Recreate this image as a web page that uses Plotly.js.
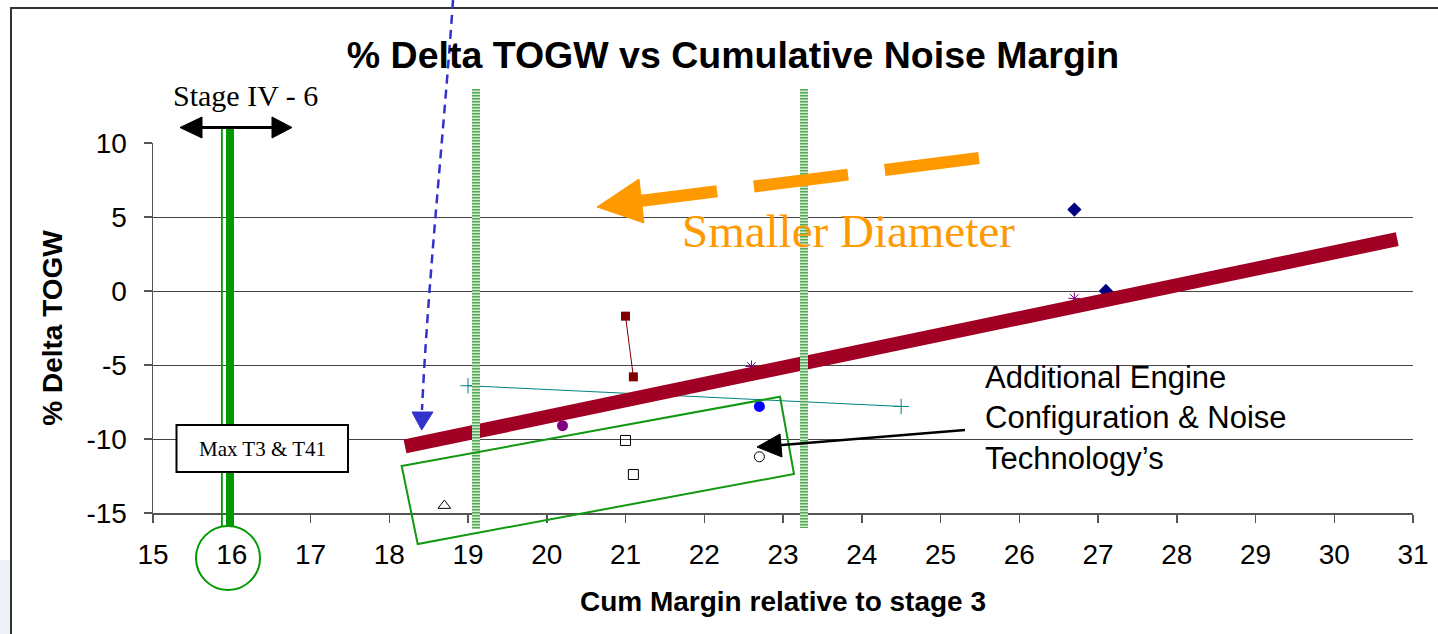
<!DOCTYPE html>
<html>
<head>
<meta charset="utf-8">
<script src="https://cdn.plot.ly/plotly-3.0.1.min.js"></script>
<style>html,body{margin:0;padding:0;background:#fff;}#chart{width:1438px;height:634px;}</style>
</head>
<body>
<div id="chart"></div>
<script>
// ---- data ----
const diamondX = [26.7, 27.1];
const diamondY = [5.5, 0.0];
const redSqX = [21.0, 21.1];
const redSqY = [-1.7, -5.8];
const plusX = [19.0, 24.5];
const plusY = [-6.4, -7.8];
const starX = [22.6, 26.7];
const starY = [-5.1, -0.5];
const purpleDotX = [20.2];
const purpleDotY = [-9.1];
const blueDotX = [22.7];
const blueDotY = [-7.8];
const openSqX = [21.0, 21.1];
const openSqY = [-10.1, -12.4];
const openCircX = [22.7];
const openCircY = [-11.2];
const openTriX = [18.7];
const openTriY = [-14.5];
const trendX = [18.2, 30.8];
const trendY = [-10.5, 3.5];
const xRange = [15, 31];
const yRange = [-15, 10];
const yTickVals = [-15, -10, -5, 0, 5, 10];
const yTickText = ['-15', '-10', '-5', '0', '5', '10'];

const titleText = '% Delta TOGW vs Cumulative Noise Margin';
const xTitle = 'Cum Margin relative to stage 3';
const yTitle = '% Delta TOGW';

// ---- layout geometry (pixels) ----
const W = 1438, H = 634;
const L = 153, R = 1413, T = 143, B = 513;
const px = x => (x - L) / (R - L);
const py = y => (B - y) / (B - T);
const path = (pts, close) => pts.map((p, i) => (i ? 'L' : 'M') + px(p[0]).toFixed(5) + ',' + py(p[1]).toFixed(5)).join(' ') + (close ? ' Z' : '');

const ARIAL = 'Liberation Sans, Arial, sans-serif';
const TIMES = 'Liberation Serif, Times New Roman, serif';

function sc(x, y, mode, marker, line) {
  const t = {x: x, y: y, mode: mode, type: 'scatter', marker: marker, cliponaxis: false, showlegend: false, hoverinfo: 'x+y'};
  if (line) t.line = line;
  return t;
}

const traces = [
  sc(diamondX, diamondY, 'markers', {symbol: 'diamond', color: '#000080', size: 11}),
  sc(redSqX, redSqY, 'lines+markers', {symbol: 'square', color: '#800000', size: 9}, {color: '#800000', width: 1}),
  sc(plusX, plusY, 'lines+markers', {symbol: 'cross-thin-open', color: '#008080', size: 11, line: {color: '#008080', width: 1}}, {color: '#008080', width: 1}),
  sc(starX, starY, 'markers', {symbol: 'asterisk-open', color: '#800080', size: 10, line: {color: '#800080', width: 1}}),
  sc(purpleDotX, purpleDotY, 'markers', {symbol: 'circle', color: '#800080', size: 11}),
  sc(blueDotX, blueDotY, 'markers', {symbol: 'circle', color: '#0000ff', size: 11}),
  sc(openSqX, openSqY, 'markers', {symbol: 'square-open', color: '#000000', size: 10, line: {color: '#000', width: 1}}),
  sc(openCircX, openCircY, 'markers', {symbol: 'circle-open', color: '#000000', size: 10, line: {color: '#000', width: 1}}),
  sc(openTriX, openTriY, 'markers', {symbol: 'triangle-up-open', color: '#000000', size: 11, line: {color: '#000', width: 1}}),
  sc(trendX, trendY, 'lines', {size: 1}, {color: '#a10024', width: 14})
];

function hatchBar(x0, x1, yTop, yBot) {
  const xc = (x0 + x1) / 2;
  return [
    {type: 'rect', xref: 'paper', yref: 'paper', x0: px(x0), x1: px(x1), y0: py(yBot), y1: py(yTop), fillcolor: '#d2ead2', line: {width: 0}},
    {type: 'path', xref: 'paper', yref: 'paper', path: path([[xc, yTop], [xc, yBot]]), line: {color: '#55aa55', width: x1 - x0, dash: '1.5px,1.5px'}}
  ];
}

const shapes = [
  // outer frame
  {type: 'path', xref: 'paper', yref: 'paper', path: path([[11, H + 2], [11, 8], [W + 2, 8]]), line: {color: '#333', width: 2}},
  {type: 'rect', xref: 'paper', yref: 'paper', x0: px(0), x1: px(10), y0: py(560), y1: py(H), fillcolor: '#eef0f8', line: {width: 0}},
  // stage IV green double line
  {type: 'rect', xref: 'paper', yref: 'paper', x0: px(221), x1: px(222.8), y0: py(527), y1: py(127), fillcolor: '#009900', line: {width: 0}},
  {type: 'rect', xref: 'paper', yref: 'paper', x0: px(226), x1: px(234), y0: py(527), y1: py(127), fillcolor: '#009900', line: {width: 0}},
  // green circle around 16
  {type: 'circle', xref: 'paper', yref: 'paper', x0: px(196), x1: px(260), y0: py(590), y1: py(526), line: {color: '#009900', width: 2}},
  // double arrow
  {type: 'path', xref: 'paper', yref: 'paper', path: path([[198, 127.5], [276, 127.5]]), line: {color: '#000', width: 3}},
  {type: 'path', xref: 'paper', yref: 'paper', path: path([[180, 127.5], [202, 117], [202, 138]], true), fillcolor: '#000', line: {color: '#000', width: 1}},
  {type: 'path', xref: 'paper', yref: 'paper', path: path([[292, 127.5], [272, 117], [272, 138]], true), fillcolor: '#000', line: {color: '#000', width: 1}}
].concat(hatchBar(472, 480, 89, 529), hatchBar(800, 808, 89, 528), [
  // green rotated rectangle
  {type: 'path', xref: 'paper', yref: 'paper', path: path([[401.7, 466], [780, 396.7], [794, 474], [417.7, 544]], true), line: {color: '#119911', width: 2}},
  // Max T3 & T41 box
  {type: 'rect', xref: 'paper', yref: 'paper', x0: px(176.5), x1: px(348), y0: py(472), y1: py(425), fillcolor: '#fff', line: {color: '#000', width: 2}},
  // black arrow
  {type: 'path', xref: 'paper', yref: 'paper', path: path([[965, 430], [776, 445.5]]), line: {color: '#000', width: 2.5}},
  {type: 'path', xref: 'paper', yref: 'paper', path: path([[757, 447], [780, 434], [782, 457]], true), fillcolor: '#000', line: {color: '#000', width: 1}},
  // orange dashed arrow
  {type: 'path', xref: 'paper', yref: 'paper', path: path([[979, 158], [640, 201]]), line: {color: '#ff9900', width: 12, dash: '95px,37px'}},
  {type: 'path', xref: 'paper', yref: 'paper', path: path([[597, 207], [639, 179], [644, 223]], true), fillcolor: '#ff9900', line: {color: '#ff9900', width: 1}},
  // blue dashed curved arrow
  {type: 'path', xref: 'paper', yref: 'paper',
   path: 'M' + px(453) + ',' + py(0) + ' C' + px(445) + ',' + py(120) + ' ' + px(428) + ',' + py(280) + ' ' + px(422) + ',' + py(410),
   line: {color: '#3333cc', width: 2.5, dash: '9px,6px'}},
  {type: 'path', xref: 'paper', yref: 'paper', path: path([[421.7, 430], [412, 412], [433, 412]], true), fillcolor: '#3333cc', line: {color: '#3333cc', width: 1}}
]);

const annotations = [
  {xref: 'paper', yref: 'paper', x: px(245), y: py(95), text: 'Stage IV - 6', showarrow: false, font: {family: TIMES, size: 30, color: '#000'}, xanchor: 'center', yanchor: 'middle'},
  {xref: 'paper', yref: 'paper', x: px(262), y: py(448.5), text: 'Max T3 &amp; T41', showarrow: false, font: {family: TIMES, size: 21, color: '#000'}, xanchor: 'center', yanchor: 'middle'},
  {xref: 'paper', yref: 'paper', x: px(848), y: py(231), text: 'Smaller Diameter', showarrow: false, font: {family: TIMES, size: 47, color: '#ff9900'}, xanchor: 'center', yanchor: 'middle'},
  {xref: 'paper', yref: 'paper', x: px(983), y: py(418), text: 'Additional Engine<br>Configuration &amp; Noise<br>Technology\u2019s', align: 'left', showarrow: false, font: {family: ARIAL, size: 31, color: '#000'}, xanchor: 'left', yanchor: 'middle'}
];

const layout = {
  width: W, height: H, autosize: false,
  paper_bgcolor: '#fff', plot_bgcolor: '#fff',
  margin: {l: L, r: W - R, t: T, b: H - B, pad: 0},
  showlegend: false,
  title: {text: titleText, x: 733 / W, xanchor: 'center', xref: 'container', y: 1 - 55 / H, yanchor: 'middle', yref: 'container',
          font: {family: ARIAL, size: 37.5, color: '#000', weight: 'bold'}},
  xaxis: {range: xRange, dtick: 1, tick0: 15, showgrid: false, zeroline: false, showline: true, linecolor: '#555', linewidth: 1.5,
          ticks: 'outside', ticklen: 8, tickcolor: '#555', tickwidth: 1.5, ticklabelstandoff: 8,
          tickfont: {family: ARIAL, size: 28, color: '#000'},
          title: {text: '<b>' + xTitle + '</b>', font: {family: ARIAL, size: 28, color: '#000'}, standoff: 22}},
  yaxis: {range: yRange, tickmode: 'array', tickvals: yTickVals, ticktext: yTickText, showgrid: true, gridcolor: '#444', gridwidth: 1, zeroline: false, showline: true, linecolor: '#555', linewidth: 1.5,
          ticks: 'outside', ticklen: 8, tickcolor: '#555', tickwidth: 1.5, ticklabelstandoff: 11,
          tickfont: {family: ARIAL, size: 28, color: '#000'},
          title: {text: '<b>' + yTitle + '</b>', font: {family: ARIAL, size: 28, color: '#000'}, standoff: 15}},
  shapes: shapes,
  annotations: annotations
};

Plotly.newPlot('chart', traces, layout, {displayModeBar: false, staticPlot: true});
</script>
</body>
</html>
